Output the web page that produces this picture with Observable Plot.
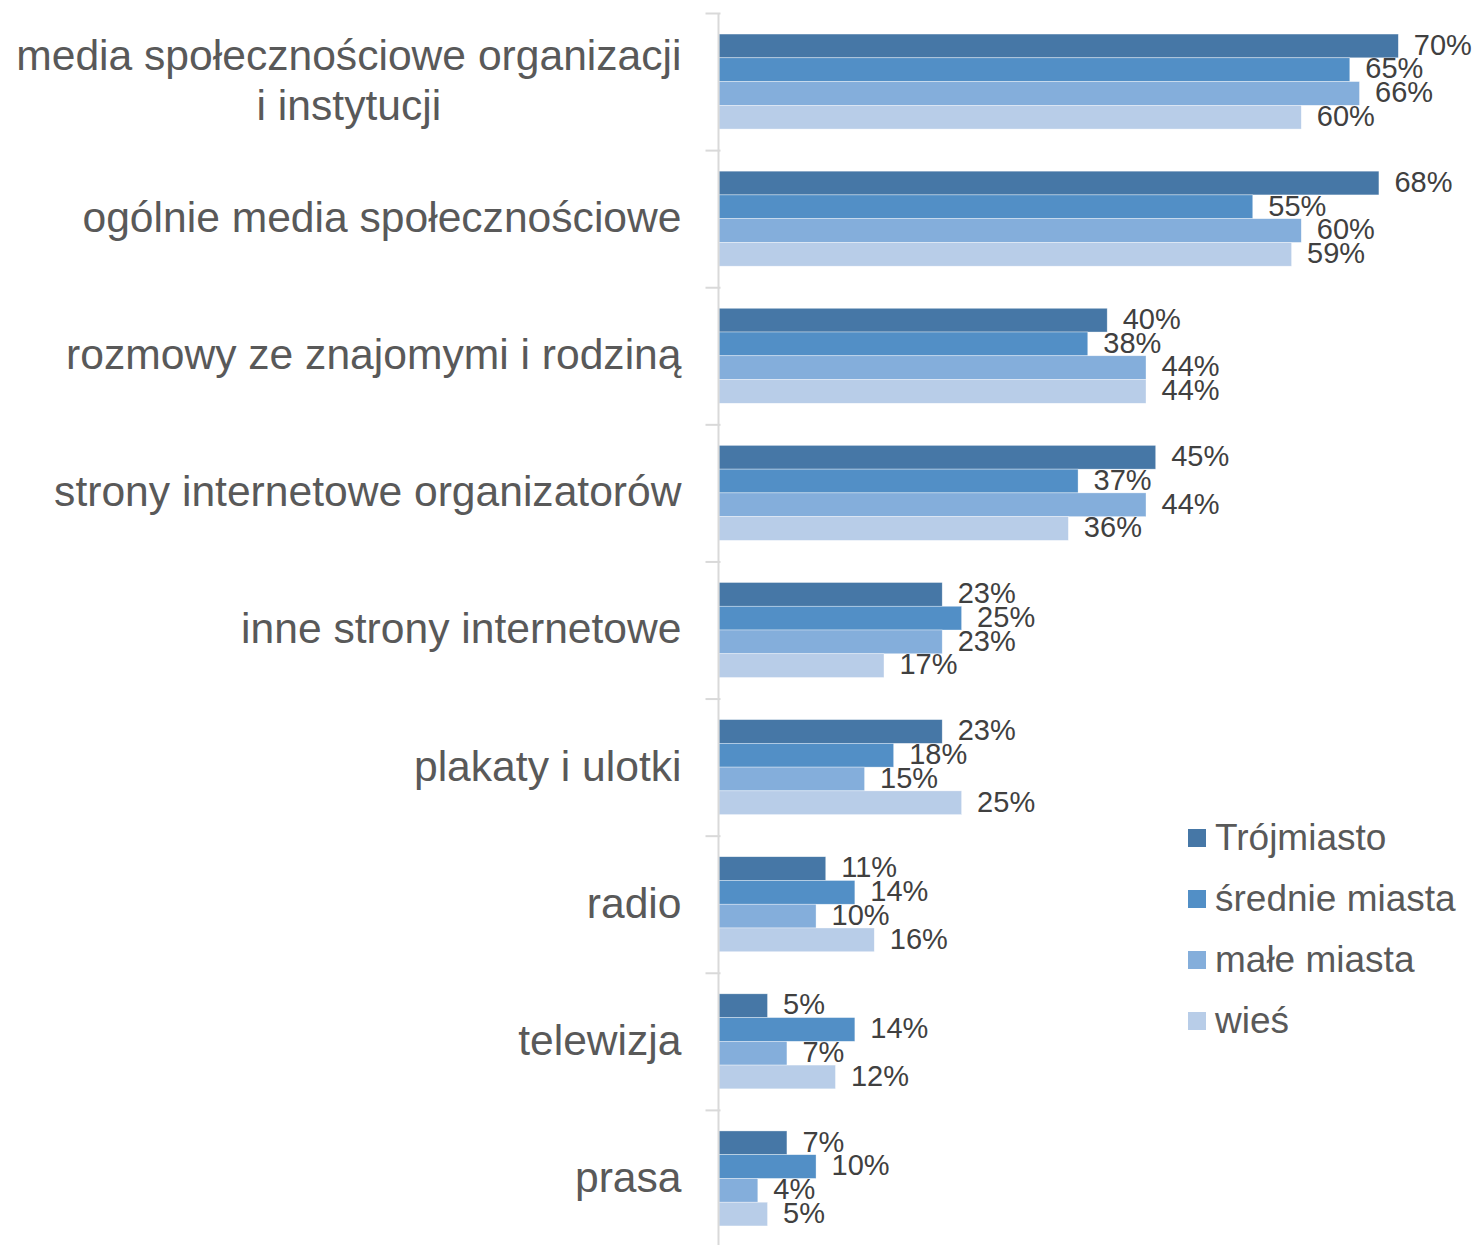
<!DOCTYPE html>
<html>
<head>
<meta charset="utf-8">
<script src="https://cdn.jsdelivr.net/npm/d3@7"></script>
<script src="https://cdn.jsdelivr.net/npm/@observablehq/plot@0.6"></script>
<style>
  html, body { margin: 0; padding: 0; background: #fff; overflow: hidden; }
  #wrap { position: relative; width: 1475px; height: 1245px; font-family: "Liberation Sans", Arial, sans-serif; }
  #legend { position: absolute; left: 1188px; top: 807px; }
  .lg-row { display: flex; align-items: center; height: 61px; }
  .lg-sw { width: 18px; height: 18px; margin-right: 9px; }
  .lg-tx { font-size: 37px; color: #595959; white-space: nowrap; line-height: 1; }
</style>
</head>
<body>
<div id="wrap"><div id="legend"></div></div>
<script>
const categories = [
  "media społecznościowe organizacji\ni instytucji",
  "ogólnie media społecznościowe",
  "rozmowy ze znajomymi i rodziną",
  "strony internetowe organizatorów",
  "inne strony internetowe",
  "plakaty i ulotki",
  "radio",
  "telewizja",
  "prasa"
];
const series = ["Trójmiasto", "średnie miasta", "małe miasta", "wieś"];
const colors = ["#4677a6", "#528fc6", "#84aedb", "#b8cde8"];
const trojmiasto    = [70, 68, 40, 45, 23, 23, 11, 5, 7];
const srednieMiasta = [65, 55, 38, 37, 25, 18, 14, 14, 10];
const maleMiasta    = [66, 60, 44, 44, 23, 15, 10, 7, 4];
const wies          = [60, 59, 44, 36, 17, 25, 16, 12, 5];
const seriesValues = [trojmiasto, srednieMiasta, maleMiasta, wies];

const data = [];
categories.forEach((c, i) => {
  series.forEach((s, j) => {
    data.push({category: c, series: s, value: seriesValues[j][i]});
  });
});

const font = "Liberation Sans, Arial, sans-serif";

const chart = Plot.plot({
  width: 1475,
  height: 1247,
  marginLeft: 719,
  marginRight: 0,
  marginTop: 13,
  marginBottom: 0,
  style: {fontFamily: font, background: "#fff"},
  x: {domain: [0, 77.9], axis: null},
  y: {domain: series, paddingInner: 0, paddingOuter: 0.886, round: false, axis: null},
  fy: {domain: categories, padding: 0, round: false},
  color: {domain: series, range: colors},
  marks: [
    Plot.barX(data, {
      x: "value", y: "series", fy: "category", fill: "series",
      stroke: "white", strokeWidth: 0.6, strokeOpacity: 0.6
    }),
    Plot.text(data, {
      x: "value", y: "series", fy: "category",
      text: d => d.value + "%",
      textAnchor: "start", dx: 15, dy: -1, fontSize: 29, fill: "#404040", fontFamily: font
    }),
    Plot.frame({anchor: "top", insetLeft: -13, insetRight: 1475 - 719, stroke: "#d9d9d9", strokeWidth: 2}),
    Plot.ruleX([0], {stroke: "#d9d9d9", strokeWidth: 2, dx: -1}),
    Plot.axisFy({
      anchor: "left", tickSize: 0, tickPadding: 38, fontSize: 42.6, dy: -3,
      fill: "#595959", lineHeight: 1.17, label: null, fontFamily: font
    })
  ]
});

const wrap = document.getElementById("wrap");
wrap.insertBefore(chart, wrap.firstChild);

// center lines of multi-line category labels within their block
chart.querySelectorAll("text").forEach(t => {
  const spans = t.querySelectorAll("tspan");
  if (spans.length > 1) {
    let maxW = 0;
    spans.forEach(s => { maxW = Math.max(maxW, s.getComputedTextLength()); });
    t.setAttribute("text-anchor", "middle");
    spans.forEach(s => {
      const ox = parseFloat(s.getAttribute("x") || "0");
      s.setAttribute("x", ox - maxW / 2);
    });
  }
});

// legend built from the chart's color scale
const colorScale = chart.scale("color");
const legend = document.getElementById("legend");
series.forEach(s => {
  const row = document.createElement("div");
  row.className = "lg-row";
  const sw = document.createElement("div");
  sw.className = "lg-sw";
  sw.style.background = colorScale.apply(s);
  const tx = document.createElement("div");
  tx.className = "lg-tx";
  tx.textContent = s;
  row.appendChild(sw);
  row.appendChild(tx);
  legend.appendChild(row);
});
</script>
</body>
</html>
